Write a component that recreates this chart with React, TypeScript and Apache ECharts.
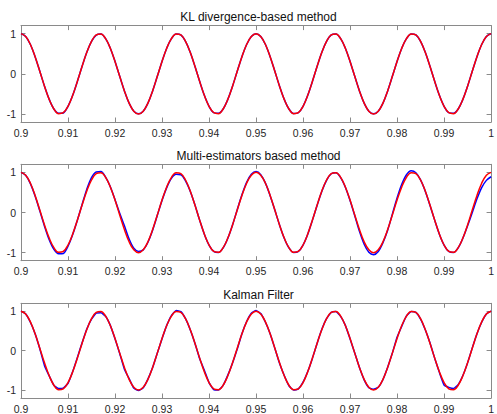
import React, { useEffect, useRef } from "react";
import * as echarts from "echarts";

// Time samples (s)
const time = [
  0.9, 0.901, 0.902, 0.903, 0.904, 0.905, 0.906, 0.907, 0.908, 0.909,
  0.91, 0.911, 0.912, 0.913, 0.914, 0.915, 0.916, 0.917, 0.918, 0.919,
  0.92, 0.921, 0.922, 0.923, 0.924, 0.925, 0.926, 0.927, 0.928, 0.929,
  0.93, 0.931, 0.932, 0.933, 0.934, 0.935, 0.936, 0.937, 0.938, 0.939,
  0.94, 0.941, 0.942, 0.943, 0.944, 0.945, 0.946, 0.947, 0.948, 0.949,
  0.95, 0.951, 0.952, 0.953, 0.954, 0.955, 0.956, 0.957, 0.958, 0.959,
  0.96, 0.961, 0.962, 0.963, 0.964, 0.965, 0.966, 0.967, 0.968, 0.969,
  0.97, 0.971, 0.972, 0.973, 0.974, 0.975, 0.976, 0.977, 0.978, 0.979,
  0.98, 0.981, 0.982, 0.983, 0.984, 0.985, 0.986, 0.987, 0.988, 0.989,
  0.99, 0.991, 0.992, 0.993, 0.994, 0.995, 0.996, 0.997, 0.998, 0.999,
  1,
];

// Red: reference signal
const reference = [
  1, 0.93, 0.729, 0.426, 0.063, -0.309, -0.637, -0.876, -0.992, -0.969,
  -0.809, -0.536, -0.187, 0.187, 0.536, 0.809, 0.969, 0.992, 0.876, 0.637,
  0.309, -0.063, -0.426, -0.729, -0.93, -1, -0.93, -0.729, -0.426, -0.063,
  0.309, 0.637, 0.876, 0.992, 0.969, 0.809, 0.536, 0.187, -0.187, -0.536,
  -0.809, -0.969, -0.992, -0.876, -0.637, -0.309, 0.063, 0.426, 0.729, 0.93,
  1, 0.93, 0.729, 0.426, 0.063, -0.309, -0.637, -0.876, -0.992, -0.969,
  -0.809, -0.536, -0.187, 0.187, 0.536, 0.809, 0.969, 0.992, 0.876, 0.637,
  0.309, -0.063, -0.426, -0.729, -0.93, -1, -0.93, -0.729, -0.426, -0.063,
  0.309, 0.637, 0.876, 0.992, 0.969, 0.809, 0.536, 0.187, -0.187, -0.536,
  -0.809, -0.969, -0.992, -0.876, -0.637, -0.309, 0.063, 0.426, 0.729, 0.93,
  1,
];

// Blue: KL divergence-based estimate
const klEstimate = [
  1, 0.93, 0.729, 0.426, 0.063, -0.309, -0.637, -0.876, -0.985, -0.975,
  -0.809, -0.536, -0.187, 0.187, 0.536, 0.809, 0.965, 0.992, 0.876, 0.637,
  0.309, -0.063, -0.426, -0.729, -0.93, -0.995, -0.93, -0.729, -0.426, -0.063,
  0.309, 0.637, 0.876, 0.99, 0.969, 0.809, 0.536, 0.187, -0.187, -0.536,
  -0.809, -0.969, -0.985, -0.876, -0.637, -0.309, 0.063, 0.426, 0.729, 0.93,
  1, 0.93, 0.729, 0.426, 0.063, -0.309, -0.637, -0.876, -0.99, -0.969,
  -0.809, -0.536, -0.187, 0.187, 0.536, 0.809, 0.969, 0.992, 0.876, 0.637,
  0.309, -0.063, -0.426, -0.729, -0.93, -0.995, -0.93, -0.729, -0.426, -0.063,
  0.309, 0.637, 0.876, 0.992, 0.969, 0.809, 0.536, 0.187, -0.187, -0.536,
  -0.809, -0.969, -0.985, -0.876, -0.637, -0.309, 0.063, 0.426, 0.729, 0.93,
  1,
];

// Blue: multi-estimators based estimate
const multiEstimate = [
  1, 0.925, 0.72, 0.41, 0.04, -0.34, -0.68, -0.92, -1.03, -1.02,
  -0.84, -0.55, -0.19, 0.2, 0.58, 0.87, 1.01, 1.02, 0.88, 0.64,
  0.32, -0.02, -0.33, -0.66, -0.89, -0.97, -0.93, -0.74, -0.44, -0.07,
  0.3, 0.62, 0.85, 0.95, 0.94, 0.79, 0.53, 0.19, -0.19, -0.54,
  -0.81, -0.97, -0.995, -0.88, -0.64, -0.31, 0.07, 0.44, 0.75, 0.95,
  1.02, 0.94, 0.73, 0.42, 0.06, -0.31, -0.64, -0.88, -0.995, -0.97,
  -0.81, -0.54, -0.19, 0.18, 0.53, 0.8, 0.965, 0.99, 0.87, 0.63,
  0.3, -0.08, -0.47, -0.79, -0.99, -1.05, -0.97, -0.75, -0.44, -0.04,
  0.36, 0.7, 0.94, 1.04, 0.99, 0.81, 0.53, 0.18, -0.19, -0.54,
  -0.81, -0.97, -0.995, -0.88, -0.64, -0.33, 0.0, 0.34, 0.62, 0.8,
  0.89,
];

// Blue: Kalman filter estimate
const kalmanEstimate = [
  1, 0.93, 0.72, 0.43, 0.05, -0.38, -0.64, -0.88, -0.96, -0.95,
  -0.83, -0.53, -0.17, 0.2, 0.55, 0.8, 0.95, 0.96, 0.87, 0.64,
  0.3, -0.07, -0.47, -0.71, -0.95, -1.01, -0.94, -0.72, -0.43, -0.06,
  0.3, 0.64, 0.89, 1.02, 0.99, 0.81, 0.53, 0.19, -0.2, -0.5,
  -0.81, -0.99, -1.0, -0.88, -0.62, -0.31, 0.04, 0.43, 0.74, 0.95,
  1.02, 0.94, 0.72, 0.43, 0.06, -0.32, -0.63, -0.89, -1.0, -0.97,
  -0.8, -0.53, -0.19, 0.19, 0.54, 0.81, 0.97, 0.99, 0.87, 0.64,
  0.3, -0.06, -0.43, -0.74, -0.94, -0.98, -0.93, -0.73, -0.42, -0.06,
  0.34, 0.62, 0.88, 0.99, 0.97, 0.8, 0.53, 0.2, -0.19, -0.55,
  -0.87, -0.93, -0.96, -0.86, -0.63, -0.31, 0.07, 0.43, 0.72, 0.93,
  1.0,
];

const titles = [
  "KL divergence-based method",
  "Multi-estimators based method",
  "Kalman Filter",
];
const estimates = [klEstimate, multiEstimate, kalmanEstimate];

const xTicks = [0.9, 0.91, 0.92, 0.93, 0.94, 0.95, 0.96, 0.97, 0.98, 0.99, 1];
const yTicks = [-1, 0, 1];

const FONT = "'Liberation Sans', Arial, Helvetica, sans-serif";
const AXIS_COLOR = "#8a8a8a";
const LABEL_COLOR = "#262626";

export default function App() {
  const ref = useRef<HTMLDivElement>(null);

  useEffect(() => {
    if (!ref.current) return;
    const chart = echarts.init(ref.current, undefined, { renderer: "svg" });

    const left = 21;
    const right = 1;
    const tops = [25.6, 164.3, 303.3];
    const height = 96.4;
    const blueSmooth = [0.3, 0.3, 0.12];

    const grids: any[] = [];
    const xAxes: any[] = [];
    const yAxes: any[] = [];
    const series: any[] = [];
    const graphics: any[] = [];

    const tickCommon = {
      show: true,
      inside: true,
      length: 4.5,
      lineStyle: { color: AXIS_COLOR, width: 1 },
    };
    const lineCommon = {
      show: true,
      onZero: false,
      lineStyle: { color: AXIS_COLOR, width: 1 },
    };

    for (let i = 0; i < 3; i++) {
      grids.push({ left, right, top: tops[i], height, containLabel: false });
      xAxes.push({
        type: "value",
        gridIndex: i,
        position: "bottom",
        min: 0.9,
        max: 1,
        interval: 0.01,
        axisLine: lineCommon,
        axisTick: { ...tickCommon, customValues: xTicks },
        axisLabel: {
          show: true,
          customValues: xTicks,
          margin: 5,
          color: LABEL_COLOR,
          fontSize: 10.5,
          fontFamily: FONT,
          formatter: (v: number) => String(Math.round(v * 100) / 100),
          showMinLabel: true,
          showMaxLabel: true,
        },
        splitLine: { show: false },
      });
      xAxes.push({
        type: "value",
        gridIndex: i,
        position: "top",
        min: 0.9,
        max: 1,
        interval: 0.01,
        axisLine: lineCommon,
        axisTick: { ...tickCommon, customValues: xTicks },
        axisLabel: { show: false },
        splitLine: { show: false },
      });
      yAxes.push({
        type: "value",
        gridIndex: i,
        position: "left",
        min: -1.2,
        max: 1.2,
        axisLine: lineCommon,
        axisTick: { ...tickCommon, customValues: yTicks },
        axisLabel: {
          show: true,
          customValues: yTicks,
          margin: 5,
          color: LABEL_COLOR,
          fontSize: 10.5,
          fontFamily: FONT,
        },
        splitLine: { show: false },
      });
      yAxes.push({
        type: "value",
        gridIndex: i,
        position: "right",
        min: -1.2,
        max: 1.2,
        axisLine: lineCommon,
        axisTick: { ...tickCommon, customValues: yTicks },
        axisLabel: { show: false },
        splitLine: { show: false },
      });

      series.push({
        type: "line",
        name: "estimate",
        xAxisIndex: i * 2,
        yAxisIndex: i * 2,
        data: time.map((t, k) => [t, estimates[i][k]]),
        showSymbol: false,
        smooth: blueSmooth[i],
        lineStyle: { color: "#0000ff", width: 1.5 },
        z: 2,
      });
      series.push({
        type: "line",
        name: "reference",
        xAxisIndex: i * 2,
        yAxisIndex: i * 2,
        data: time.map((t, k) => [t, reference[k]]),
        showSymbol: false,
        smooth: 0.4,
        lineStyle: { color: "#ff0000", width: 1.5 },
        z: 3,
      });

      graphics.push({
        type: "text",
        x: left + (497 - left - right) / 2,
        y: tops[i] - 8.5,
        style: {
          text: titles[i],
          fill: "#111111",
          fontSize: 12,
          fontFamily: FONT,
          align: "center",
          verticalAlign: "middle",
        },
      });
    }

    chart.setOption({
      animation: false,
      backgroundColor: "#ffffff",
      grid: grids,
      xAxis: xAxes,
      yAxis: yAxes,
      series,
      graphic: graphics,
    });

    return () => chart.dispose();
  }, []);

  return (
    <div
      ref={ref}
      style={{ position: "fixed", left: 0, top: 0, width: 497, height: 414 }}
    />
  );
}
